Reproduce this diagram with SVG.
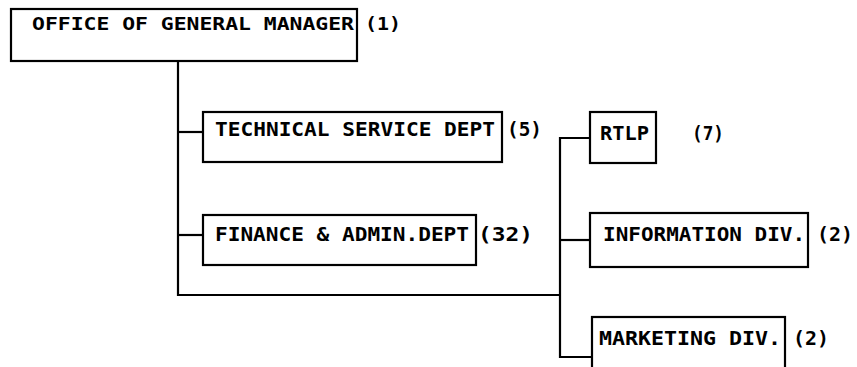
<svg xmlns="http://www.w3.org/2000/svg" width="857" height="367" viewBox="0 0 857 367">
  <style>
    .box { fill: #ffffff; stroke: #000000; stroke-width: 2.2; }
    .wire { fill: none; stroke: #000000; stroke-width: 2.2; }
    text { font-family: "DejaVu Sans Mono", "Liberation Mono", monospace; font-weight: bold; font-size: 20px; fill: #000000; }
    .small { font-size: 17px; }
  </style>
  <rect width="857" height="367" fill="#ffffff"/>

  <!-- reporting lines -->
  <g id="connectors">
    <polyline class="wire" points="178,61 178,295 560,295"/>
    <line class="wire" x1="178" y1="132" x2="203" y2="132"/>
    <line class="wire" x1="178" y1="235" x2="203" y2="235"/>
    <polyline class="wire" points="590,138 560,138 560,357 592,357"/>
    <line class="wire" x1="560" y1="240" x2="590" y2="240"/>
  </g>

  <g id="general-manager">
    <rect class="box" x="11" y="9" width="346" height="52"/>
    <text class="small" x="32" y="30" textLength="322" lengthAdjust="spacingAndGlyphs">OFFICE OF GENERAL MANAGER</text>
    <text class="small" x="365" y="30" textLength="36" lengthAdjust="spacingAndGlyphs">(1)</text>
  </g>

  <g id="technical-service">
    <rect class="box" x="203" y="112" width="299" height="50"/>
    <text x="215" y="136" textLength="280" lengthAdjust="spacingAndGlyphs">TECHNICAL SERVICE DEPT</text>
    <text x="507" y="136" textLength="35" lengthAdjust="spacingAndGlyphs">(5)</text>
  </g>

  <g id="finance-admin">
    <rect class="box" x="203" y="215" width="273" height="50"/>
    <text x="215" y="241" textLength="254" lengthAdjust="spacingAndGlyphs">FINANCE &amp; ADMIN.DEPT</text>
    <text x="478" y="241" textLength="55" lengthAdjust="spacingAndGlyphs">(32)</text>
  </g>

  <g id="rtlp">
    <rect class="box" x="590" y="112" width="66" height="51"/>
    <text x="600" y="140" textLength="49" lengthAdjust="spacingAndGlyphs">RTLP</text>
    <text x="692" y="140" textLength="32" lengthAdjust="spacingAndGlyphs">(7)</text>
  </g>

  <g id="information-div">
    <rect class="box" x="590" y="213" width="218" height="54"/>
    <text x="603" y="241" textLength="202" lengthAdjust="spacingAndGlyphs">INFORMATION DIV.</text>
    <text x="817" y="241" textLength="36" lengthAdjust="spacingAndGlyphs">(2)</text>
  </g>

  <g id="marketing-div">
    <rect class="box" x="592" y="317" width="193" height="60"/>
    <text x="599" y="345" textLength="182" lengthAdjust="spacingAndGlyphs">MARKETING DIV.</text>
    <text x="793" y="345" textLength="36" lengthAdjust="spacingAndGlyphs">(2)</text>
  </g>
</svg>
